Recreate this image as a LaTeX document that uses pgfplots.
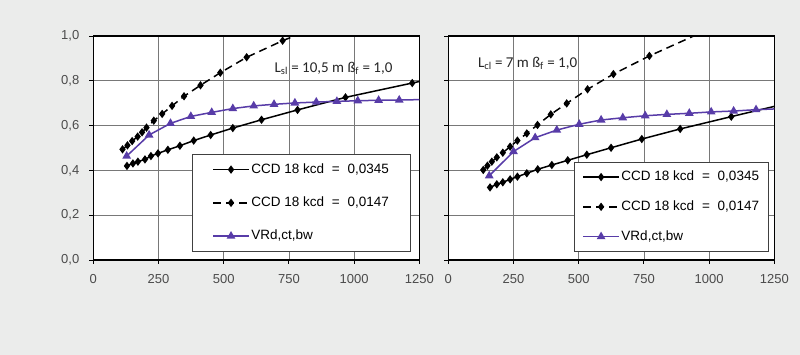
\documentclass[border=0pt]{standalone}
\usepackage{fontspec}
\setmainfont{Liberation Sans}
\newfontfamily\calfont{Carlito}
\usepackage{pgfplots}
\pgfplotsset{compat=1.18}
\definecolor{bg}{RGB}{235,236,235}
\definecolor{vio}{RGB}{88,60,168}
\definecolor{tickc}{RGB}{75,75,75}
\definecolor{gridc}{RGB}{120,120,120}
\pgfplotsset{
 panel/.style={
  scale only axis, width=326pt, height=224pt,
  xmin=0,xmax=1250,ymin=0,ymax=1,
  xtick={0,250,500,750,1000,1250}, ytick={0,0.2,0.4,0.6,0.8,1},
  grid=major, grid style={gridc, line width=0.75pt},
  axis line style={black, line width=1.2pt},
  tick align=outside, major tick length=4pt,
  tick style={black, line width=0.9pt},
  xtick pos=bottom, ytick pos=left,
  axis background/.style={fill=white},
  clip marker paths=true,
  /pgf/number format/assume math mode=true,
  /pgf/number format/use comma,
  /pgf/number format/1000 sep={},
  ticklabel style={font=\fontsize{13}{15}\selectfont, text=tickc},
  xticklabel style={yshift=-7pt},
  yticklabel style={xshift=-6.5pt, /pgf/number format/fixed, /pgf/number format/fixed zerofill, /pgf/number format/precision=1},
  legend cell align=left,
  legend image code/.code={\draw[mark repeat=2,mark phase=2,##1] plot coordinates {(0pt,0pt) (18pt,0pt) (36pt,0pt)};},
 },
 solidser/.style={black, line width=1.5pt, mark=diamond*, mark size=3pt},
 dashser/.style={black, line width=1.5pt, dash pattern=on 8pt off 5pt, mark=diamond*, mark size=3pt, mark options={solid}},
 vioser/.style={vio, line width=1.5pt, mark=triangle*, mark size=3.6pt, mark options={solid, fill=vio}},
}
\begin{document}
\begin{tikzpicture}
\fill[bg] (0,0) rectangle (800pt,355pt);
\useasboundingbox (0,0) rectangle (800pt,355pt);
% ---------------- left panel
\begin{axis}[panel, at={(93.3pt,95pt)}, anchor=south west,
  legend style={at={(0.303,0.037)}, anchor=south west, draw=black!75, fill=white,
    inner xsep=20pt, inner ysep=7.2pt, row sep=17pt,
    nodes={inner sep=1.65pt, text height=10pt, text depth=3pt, font=\fontsize{13.5}{15}\selectfont}}]
\addplot[solidser] coordinates {
(129,0.420) (152,0.431) (171,0.439) (198,0.449) (221,0.464) (248,0.476) (286,0.492) (332,0.510) (385,0.533) (450,0.558) (535,0.589) (645,0.626) (783,0.670) (967,0.726) (1223,0.790) (1500,0.860)};
\addlegendentry{CCD 18 kcd\hspace{0.3em} = \hspace{0.3em}0,0345}
\addplot[dashser] coordinates {
(112,0.494) (131,0.512) (149,0.531) (170,0.551) (187,0.570) (204,0.591) (232,0.622) (264,0.652) (302,0.688) (348,0.731) (411,0.780) (487,0.836) (588,0.905) (726,0.979) (900,1.060)};
\addlegendentry{CCD 18 kcd\hspace{0.3em} = \hspace{0.3em}0,0147}
\addplot[vioser] coordinates {
(128,0.464) (214,0.558) (296,0.610) (374,0.641) (454,0.659) (535,0.676) (615,0.688) (693,0.695) (773,0.701) (855,0.705) (934,0.708) (1014,0.711) (1094,0.713) (1173,0.714) (1330,0.718)};
\addlegendentry{VRd,ct,bw}
\node[font=\calfont\fontsize{15}{17}\selectfont, text=black!85] at (axis cs:921,0.855) {L\textsubscript{sl} = 10,5 m ß\textsubscript{f} = 1,0};
\end{axis}
% ---------------- right panel
\begin{axis}[panel, at={(448.3pt,95pt)}, anchor=south west, yticklabels={},
  legend style={at={(0.386,0.037)}, anchor=south west, draw=black!75, fill=white,
    inner xsep=8pt, inner ysep=6.7pt, row sep=13.5pt,
    nodes={inner sep=1.65pt, text height=10pt, text depth=3pt, font=\fontsize{13.5}{15}\selectfont}}]
\addplot[solidser] coordinates {
(160,0.324) (186,0.338) (209,0.347) (237,0.360) (265,0.372) (301,0.387) (343,0.405) (397,0.424) (458,0.445) (531,0.470) (624,0.501) (742,0.540) (889,0.585) (1085,0.640) (1330,0.708)};
\addlegendentry{CCD 18 kcd\hspace{0.3em} = \hspace{0.3em}0,0345}
\addplot[dashser] coordinates {
(134,0.402) (150,0.421) (167,0.439) (186,0.458) (209,0.479) (237,0.506) (265,0.533) (301,0.565) (342,0.603) (393,0.650) (454,0.699) (534,0.762) (633,0.830) (771,0.911) (960,1.010)};
\addlegendentry{CCD 18 kcd\hspace{0.3em} = \hspace{0.3em}0,0147}
\addplot[vioser] coordinates {
(157,0.376) (250,0.484) (333,0.546) (416,0.580) (502,0.606) (586,0.625) (669,0.635) (755,0.644) (838,0.650) (924,0.655) (1008,0.661) (1094,0.665) (1180,0.671) (1265,0.675)};
\addlegendentry{VRd,ct,bw}
\node[font=\calfont\fontsize{15}{17}\selectfont, text=black!85] at (axis cs:304,0.879) {L\textsubscript{cl} = 7 m ß\textsubscript{f} = 1,0};
\end{axis}
\end{tikzpicture}
\end{document}
